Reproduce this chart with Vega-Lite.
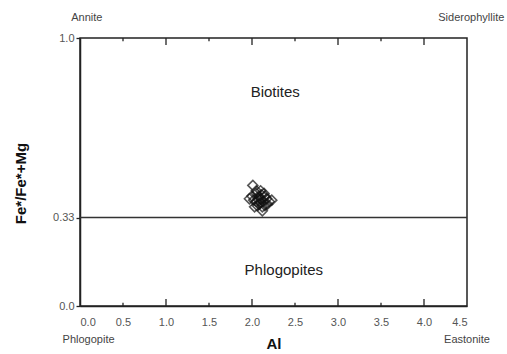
{
  "$schema": "https://vega.github.io/schema/vega-lite/v6.json",
  "width": 387,
  "height": 268,
  "autosize": {"type": "none"},
  "padding": {"left": 80, "top": 38, "right": 40, "bottom": 48},
  "config": {
    "font": "Liberation Sans",
    "view": {"stroke": "#222", "strokeWidth": 1.5},
    "axis": {"domainColor": "#222", "domainWidth": 1.5, "tickColor": "#222", "tickWidth": 1.3, "labelColor": "#555", "labelFontSize": 11, "grid": false}
  },
  "datasets": {
    "pts": [
      {"al": 2.01, "fe": 0.45}, {"al": 2.05, "fe": 0.43}, {"al": 2.0, "fe": 0.41},
      {"al": 1.97, "fe": 0.40}, {"al": 2.05, "fe": 0.39}, {"al": 2.1, "fe": 0.40},
      {"al": 2.15, "fe": 0.41}, {"al": 2.2, "fe": 0.39}, {"al": 2.23, "fe": 0.395},
      {"al": 2.12, "fe": 0.37}, {"al": 2.08, "fe": 0.38}, {"al": 2.15, "fe": 0.375},
      {"al": 2.12, "fe": 0.355}, {"al": 2.05, "fe": 0.42}, {"al": 2.1, "fe": 0.43},
      {"al": 2.18, "fe": 0.38}, {"al": 2.03, "fe": 0.37}, {"al": 2.08, "fe": 0.41},
      {"al": 2.13, "fe": 0.39}, {"al": 2.07, "fe": 0.40}, {"al": 2.17, "fe": 0.40},
      {"al": 2.1, "fe": 0.385}, {"al": 2.02, "fe": 0.395}, {"al": 2.14, "fe": 0.42},
      {"al": 2.06, "fe": 0.375}, {"al": 2.11, "fe": 0.415}
    ],
    "minor": [{"tk": 0.5}, {"tk": 1.5}, {"tk": 2.5}, {"tk": 3.5}],
    "major": [{"tk": 1}, {"tk": 2}, {"tk": 3}, {"tk": 4}],
    "labels": [
      {"al": 2.27, "fe": 0.80, "t": "Biotites"},
      {"al": 2.37, "fe": 0.135, "t": "Phlogopites"}
    ],
    "corners": [
      {"al": 0.08, "fe": 1.075, "t": "Annite"},
      {"al": 4.55, "fe": 1.075, "t": "Siderophyllite"},
      {"al": 0.1, "fe": -0.125, "t": "Phlogopite"},
      {"al": 4.5, "fe": -0.125, "t": "Eastonite"}
    ]
  },
  "layer": [
    {
      "data": {"values": [{"v": 0.33}]},
      "mark": {"type": "rule", "color": "#333", "strokeWidth": 1.5},
      "encoding": {
        "y": {"field": "v", "type": "quantitative", "scale": {"domain": [0, 1]},
          "axis": {"orient": "left", "values": [0, 0.33, 1], "labelExpr": "datum.value == 0 ? '0.0' : datum.value == 1 ? '1.0' : '0.33'", "tickSize": 4, "title": "Fe*/Fe*+Mg", "titleFontSize": 15, "titleFontWeight": "bold", "titleColor": "#111", "titleX": -52, "titleY": 145}}
      }
    },
    {
      "data": {"name": "pts"},
      "mark": {"type": "point", "shape": "diamond", "filled": false, "stroke": "#111", "strokeWidth": 1.6, "size": 100},
      "encoding": {
        "x": {"field": "al", "type": "quantitative", "scale": {"domain": [0, 4.5], "nice": false},
          "axis": {"orient": "bottom", "values": [0, 0.5, 1, 1.5, 2, 2.5, 3, 3.5, 4, 4.5], "format": ".1f",
            "ticks": false, "labelPadding": 10, "title": "Al", "titleFontSize": 15, "titleFontWeight": "bold", "titleColor": "#111", "titlePadding": 9}},
        "y": {"field": "fe", "type": "quantitative", "title": "Fe*/Fe*+Mg"}
      }
    },
    {
      "data": {"name": "minor"},
      "mark": {"type": "rule", "color": "#222", "strokeWidth": 1.3},
      "encoding": {
        "x": {"field": "tk", "type": "quantitative", "title": "Al"},
        "y": {"datum": 0, "type": "quantitative", "title": "Fe*/Fe*+Mg"},
        "y2": {"datum": 0.012}
      }
    },
    {
      "data": {"name": "minor"},
      "mark": {"type": "rule", "color": "#222", "strokeWidth": 1.3},
      "encoding": {
        "x": {"field": "tk", "type": "quantitative", "title": "Al"},
        "y": {"datum": 1, "type": "quantitative", "title": "Fe*/Fe*+Mg"},
        "y2": {"datum": 0.988}
      }
    },
    {
      "data": {"name": "major"},
      "mark": {"type": "rule", "color": "#222", "strokeWidth": 1.3},
      "encoding": {
        "x": {"field": "tk", "type": "quantitative", "title": "Al"},
        "y": {"datum": 0, "type": "quantitative", "title": "Fe*/Fe*+Mg"},
        "y2": {"datum": 0.026}
      }
    },
    {
      "data": {"name": "major"},
      "mark": {"type": "rule", "color": "#222", "strokeWidth": 1.3},
      "encoding": {
        "x": {"field": "tk", "type": "quantitative", "title": "Al"},
        "y": {"datum": 1, "type": "quantitative", "title": "Fe*/Fe*+Mg"},
        "y2": {"datum": 0.974}
      }
    },
    {
      "data": {"name": "labels"},
      "mark": {"type": "text", "fontSize": 15, "color": "#222"},
      "encoding": {
        "x": {"field": "al", "type": "quantitative", "title": "Al"},
        "y": {"field": "fe", "type": "quantitative", "title": "Fe*/Fe*+Mg"},
        "text": {"field": "t"}
      }
    },
    {
      "data": {"name": "corners"},
      "mark": {"type": "text", "fontSize": 11, "color": "#444"},
      "encoding": {
        "x": {"field": "al", "type": "quantitative", "title": "Al"},
        "y": {"field": "fe", "type": "quantitative", "title": "Fe*/Fe*+Mg"},
        "text": {"field": "t"}
      }
    }
  ]
}
